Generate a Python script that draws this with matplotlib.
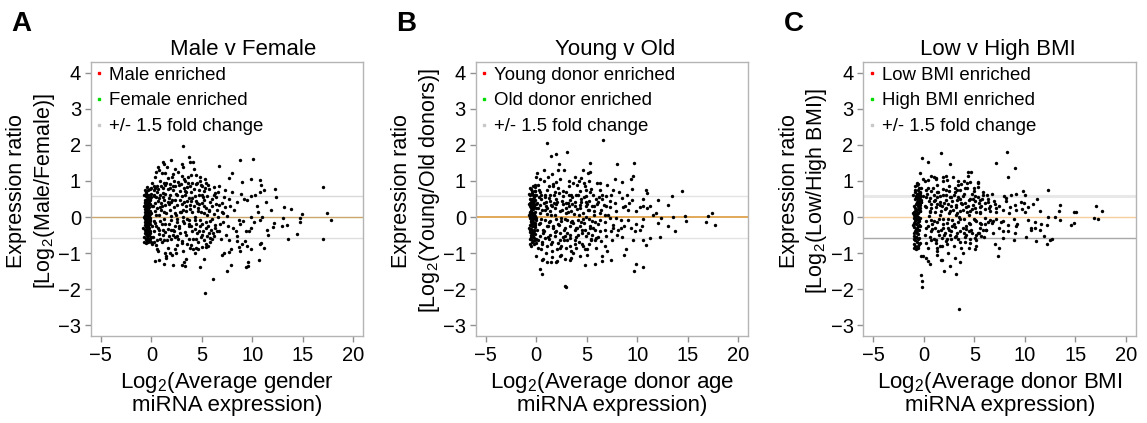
import numpy as np
import matplotlib
matplotlib.use("Agg")
import matplotlib.pyplot as plt
from matplotlib.lines import Line2D

plt.rcParams['font.family'] = ['Liberation Sans', 'DejaVu Sans']
plt.rcParams['mathtext.fontset'] = 'custom'
plt.rcParams['mathtext.rm'] = 'Liberation Sans'
plt.rcParams['mathtext.it'] = 'Liberation Sans'

# ---------------- data ----------------
sex_band = [(-0.45, 0.82), (-0.3, 0.75), (-0.5, 0.68), (-0.2, 0.62), (-0.55, 0.58), (-0.35, 0.55), (-0.15, 0.5),
            (-0.6, 0.47), (-0.42, 0.44), (-0.25, 0.4), (-0.52, 0.37), (-0.1, 0.35), (-0.38, 0.32), (-0.6, 0.3),
            (-0.2, 0.28), (-0.47, 0.25), (-0.3, 0.22), (-0.55, 0.2), (-0.12, 0.18), (-0.4, 0.16), (-0.62, 0.14),
            (-0.25, 0.12), (-0.5, 0.1), (-0.35, 0.08), (-0.15, 0.07), (-0.58, 0.05), (-0.44, 0.04), (-0.28, 0.02),
            (-0.65, 0.01), (-0.2, 0.0), (-0.5, -0.01), (-0.38, -0.02), (-0.1, -0.03), (-0.6, -0.04), (-0.3, -0.05),
            (-0.45, -0.07), (-0.18, -0.08), (-0.55, -0.1), (-0.35, -0.12), (-0.62, -0.14), (-0.25, -0.15),
            (-0.48, -0.17), (-0.12, -0.19), (-0.4, -0.21), (-0.58, -0.23), (-0.3, -0.25), (-0.52, -0.28),
            (-0.2, -0.3), (-0.42, -0.32), (-0.6, -0.35), (-0.33, -0.38), (-0.15, -0.4), (-0.5, -0.42),
            (-0.38, -0.45), (-0.55, -0.48), (-0.25, -0.5), (-0.45, -0.53), (-0.3, -0.57), (-0.5, -0.6),
            (-0.2, -0.63), (-0.4, -0.66), (-0.32, -0.7), (-0.48, -0.73), (-0.55, 0.0), (-0.45, 0.3), (-0.35, -0.3),
            (-0.58, 0.4), (-0.48, -0.4), (-0.4, 0.6), (-0.52, -0.2), (-0.28, 0.45), (-0.62, -0.05), (-0.42, 0.12),
            (-0.5, 0.2), (-0.7, 0.6), (-0.05, 0.65), (-0.75, 0.3), (0.05, 0.3), (-0.72, 0.0), (0.0, 0.1),
            (-0.78, -0.3), (0.02, -0.25), (-0.7, -0.55), (-0.05, -0.55), (-0.65, 0.75), (-0.1, 0.78),
            (-0.68, -0.68), (0.0, -0.7), (-0.6, 0.22), (-0.15, -0.12), (-0.33, 0.38), (-0.27, -0.42), (-0.44, 0.5),
            (-0.53, -0.62), (-0.22, 0.15), (-0.37, -0.17), (-0.57, 0.66), (-0.17, -0.6), (-0.65, 0.42),
            (-0.08, 0.55), (-0.47, -0.35), (-0.3, 0.05), (-0.62, -0.45), (-0.12, -0.45)]
sex_spread = [(3.12, 1.98), (3.71, 1.66), (4.08, 1.52), (8.73, 1.59), (10.05, 1.60), (6.68, 1.41), (1.93, 1.58),
              (1.14, 1.52), (1.30, 1.46), (1.54, 1.40), (0.64, 1.38), (0.48, 1.26), (0.78, 1.29), (1.01, 1.22),
              (1.37, 1.21), (2.30, 1.33), (3.05, 1.47), (3.09, 1.38), (3.81, 1.53), (4.24, 1.33), (3.91, 1.17),
              (2.99, 1.14), (2.10, 1.18), (1.60, 1.08), (2.23, 1.01), (2.62, 0.97), (3.38, 1.00), (3.58, 0.94),
              (4.44, 1.16), (4.84, 1.12), (4.84, 1.00), (5.43, 0.94), (5.03, 0.85), (4.44, 0.92), (3.78, 0.85),
              (3.25, 0.80), (2.36, 0.85), (1.80, 0.91), (1.37, 0.89), (0.97, 0.85), (0.58, 0.85), (0.22, 0.87),
              (-0.05, 0.80), (0.28, 0.76), (0.68, 0.77), (1.11, 0.66), (1.67, 0.77), (2.10, 0.74), (2.82, 0.71),
              (3.32, 0.73), (3.94, 0.68), (4.67, 0.76), (5.23, 0.71), (5.73, 0.77), (6.16, 0.83), (6.65, 0.87),
              (7.64, 1.08), (7.97, 1.22), (8.96, 0.96), (9.82, 1.06), (10.71, 1.03), (10.88, 0.89), (11.14, 0.76),
              (12.29, 0.77), (12.33, 0.55), (10.71, 0.69), (9.85, 0.59), (8.86, 0.64), (8.00, 0.69), (7.71, 0.50),
              (7.31, 0.76), (6.26, 0.66), (5.50, 0.57), (5.00, 0.62), (4.34, 0.57), (3.68, 0.52), (3.02, 0.59),
              (2.36, 0.48), (1.70, 0.52), (1.21, 0.48), (0.71, 0.52), (0.22, 0.57), (-0.11, 0.48), (0.38, 0.39),
              (0.88, 0.29), (1.37, 0.34), (1.96, 0.41), (2.53, 0.34), (3.19, 0.43), (3.85, 0.34), (4.51, 0.39),
              (5.17, 0.46), (5.83, 0.41), (6.65, 0.34), (7.31, 0.28), (8.47, 0.43), (9.46, 0.46), (10.45, 0.31),
              (11.37, 0.41), (11.83, 0.20), (13.12, 0.27), (13.78, 0.23), (14.90, 0.09), (14.74, -0.03),
              (14.67, -0.13), (16.95, 0.82), (17.38, 0.10), (17.74, -0.09), (16.98, -0.61), (13.48, -0.61),
              (14.44, -0.47), (12.99, -0.04), (13.42, -0.23), (12.92, -0.24), (12.10, -0.18), (12.00, -0.29),
              (11.44, -0.35), (10.78, -0.07), (10.12, -0.15), (10.94, 0.0), (9.89, 0.0), (9.36, -0.40),
              (9.69, -0.40), (8.70, -0.07), (8.73, -0.19), (8.47, -0.53), (8.07, -0.30), (7.64, -0.63),
              (8.50, -0.67), (8.96, -0.76), (9.29, -0.67), (9.46, -0.81), (9.85, -0.90), (10.84, -0.72),
              (11.17, -0.86), (10.74, -0.76), (10.61, -1.18), (9.52, -1.25), (9.36, -1.38), (9.56, -1.36),
              (8.63, -0.83), (8.76, -0.95), (7.87, -0.90), (7.71, -0.98), (7.24, -1.01), (7.87, -1.34),
              (7.51, -1.50), (6.98, -1.04), (6.09, -1.73), (5.27, -2.12), (4.77, -1.38), (5.23, -1.16),
              (5.40, -0.84), (5.00, -0.84), (4.44, -0.85), (4.11, -0.90), (3.42, -1.16), (3.28, -1.24),
              (3.02, -1.34), (3.35, -1.36), (2.16, -1.32), (2.43, -0.99), (1.87, -1.01), (1.50, -1.09),
              (1.37, -1.01), (1.27, -1.31), (0.78, -1.18), (0.38, -1.22), (0.55, -0.90), (0.28, -0.70),
              (0.05, -0.76), (0.48, -0.79), (0.88, -0.61), (1.30, -0.63), (1.70, -0.53), (2.10, -0.49),
              (2.53, -0.52), (3.02, -0.67), (3.52, -0.74), (3.94, -0.79), (4.44, -0.61), (5.00, -0.49),
              (5.50, -0.53), (5.83, -0.58), (6.16, -0.52), (6.49, -0.40), (5.93, -0.35), (5.40, -0.30),
              (4.84, -0.26), (4.34, -0.33), (3.75, -0.26), (3.28, -0.18), (2.69, -0.26), (2.13, -0.35),
              (1.63, -0.33), (1.11, -0.35), (0.64, -0.30), (0.22, -0.40), (0.38, -0.17), (0.88, -0.12),
              (1.37, -0.19), (1.96, -0.09), (2.53, -0.06), (3.09, 0.0), (3.68, -0.07), (4.28, 0.0), (4.84, -0.09),
              (5.40, -0.15), (5.99, -0.06), (6.59, 0.0), (7.05, -0.15), (7.48, 0.04), (6.98, 0.13), (6.49, 0.20),
              (5.73, 0.16), (5.17, 0.11), (4.57, 0.16), (4.01, 0.13), (3.45, 0.16), (2.86, 0.13), (2.30, 0.11),
              (1.80, 0.20), (1.21, 0.13), (0.78, 0.06), (0.38, 0.16), (2.36, -0.26), (4.67, -0.40), (5.66, -0.44),
              (6.26, -0.21),
              (0.1, 0.95), (0.4, 1.1), (0.6, 0.7), (0.9, 1.0), (1.2, 0.55), (1.5, 0.95), (1.8, 0.6), (2.0, 1.1),
              (2.4, 0.65), (2.7, 0.88), (3.0, 0.35), (3.3, 0.62), (3.6, 1.1), (3.9, 0.45), (4.2, 0.78), (4.6, 0.25),
              (5.1, 0.55), (5.6, 0.9), (6.0, 0.3), (6.4, 0.55), (0.2, 0.3), (0.5, 0.05), (0.7, 0.45), (1.0, 0.2),
              (1.3, -0.05), (1.6, 0.42), (1.9, 0.02), (2.2, 0.28), (2.5, -0.15), (2.8, 0.48), (3.1, -0.1), (3.4, 0.3),
              (3.7, -0.2), (4.0, 0.52), (4.3, -0.08), (4.7, 0.35), (5.0, -0.2), (5.4, 0.25), (5.8, -0.1), (6.2, 0.08),
              (0.15, -0.55), (0.45, -0.25), (0.75, -0.48), (1.05, -0.7), (1.35, -0.42), (1.65, -0.85), (1.95, -0.6),
              (2.25, -0.38), (2.55, -0.78), (2.85, -0.45), (3.15, -0.95), (3.45, -0.5), (3.75, -0.62), (4.05, -0.4),
              (4.35, -1.0), (4.65, -0.7), (4.95, -0.55), (5.25, -0.65), (5.6, -0.8), (6.0, -0.62), (0.3, 0.62),
              (0.65, -0.95), (1.15, 0.8), (1.45, -1.15), (2.05, -1.05), (2.6, 1.25), (3.5, 0.82), (4.5, 0.95),
              (5.3, 1.05), (6.7, -0.4), (7.2, 0.55), (8.2, 0.2), (9.1, -0.1), (10.3, 0.6), (11.5, -0.5)]
sex_fill = [(0.35, 0.8), (0.55, 0.25), (0.85, 0.62), (1.05, -0.2), (1.25, 0.95), (1.45, 0.1), (1.75, 0.35),
            (1.95, -0.35), (2.15, 0.85), (2.45, 0.05), (2.65, -0.6), (2.95, 0.92), (3.15, 0.2), (3.35, -0.42),
            (3.55, 0.45), (3.85, -0.85), (4.05, 0.95), (4.25, 0.3), (4.45, -0.2), (4.75, 0.6), (4.95, 0.15),
            (5.15, -0.4), (5.35, 0.8), (5.55, 0.05), (5.85, -0.7), (6.05, 0.5), (6.35, -0.3), (6.55, 0.7),
            (6.85, -0.6), (7.1, 0.1), (0.25, -0.1), (0.6, -0.65), (0.95, 0.4), (1.15, -0.5), (1.4, 0.65),
            (1.7, -0.2), (2.0, 0.48), (2.3, -0.9), (2.55, 0.6), (2.75, -0.3), (3.05, -0.72), (3.25, 1.05),
            (3.5, -0.05), (3.8, 0.22), (4.1, -0.6), (4.4, 0.45), (4.6, -0.9), (4.9, 0.9), (5.2, 0.3), (5.45, -0.75),
            (5.75, 0.2), (6.1, -0.45), (6.45, 0.35), (6.8, -0.2), (7.4, -0.5), (7.8, 0.3), (8.4, -0.4), (9.2, 0.5),
            (9.9, -0.3), (10.6, 0.15), (0.5, 0.55), (0.8, -0.35), (1.1, 0.3), (1.55, -0.65), (1.85, 0.8),
            (2.35, -0.55), (2.9, 0.15), (3.4, 0.7), (3.95, -0.25), (4.55, -0.45), (5.05, 0.4), (5.65, -0.25),
            (6.25, 0.62), (6.95, 0.4), (7.6, -0.25)]

age_band = [(-0.3, 0.85), (-0.5, 0.78), (-0.15, 0.72), (-0.4, 0.66), (-0.6, 0.6), (-0.25, 0.55), (-0.45, 0.5),
            (-0.1, 0.46), (-0.55, 0.42), (-0.35, 0.38), (-0.2, 0.34), (-0.6, 0.3), (-0.42, 0.27), (-0.05, 0.24),
            (-0.3, 0.21), (-0.5, 0.18), (-0.15, 0.15), (-0.62, 0.12), (-0.38, 0.1), (-0.25, 0.08), (-0.52, 0.06),
            (-0.1, 0.04), (-0.45, 0.02), (-0.32, 0.0), (-0.6, -0.02), (-0.2, -0.04), (-0.48, -0.06), (-0.05, -0.08),
            (-0.38, -0.1), (-0.55, -0.13), (-0.28, -0.15), (-0.15, -0.18), (-0.45, -0.2), (-0.62, -0.23),
            (-0.33, -0.26), (-0.1, -0.29), (-0.5, -0.32), (-0.22, -0.35), (-0.4, -0.38), (-0.58, -0.41),
            (-0.3, -0.44), (-0.12, -0.47), (-0.48, -0.5), (-0.36, -0.54), (-0.2, -0.58), (-0.52, -0.62),
            (-0.3, -0.66), (-0.42, -0.7), (-0.25, -0.75), (-0.5, -0.8), (-0.4, 0.45), (-0.55, 0.25), (-0.28, -0.05),
            (-0.45, -0.25), (-0.35, 0.6), (-0.58, 0.0), (-0.18, 0.28), (-0.48, 0.35), (-0.4, -0.45), (-0.62, 0.5),
            (-0.3, 0.12), (-0.52, -0.1), (-0.68, 0.65), (0.02, 0.6), (-0.7, 0.35), (0.05, 0.38), (-0.72, 0.05),
            (0.02, -0.02), (-0.7, -0.3), (0.03, -0.35), (-0.66, -0.6), (-0.02, -0.6), (-0.6, 0.8), (-0.08, 0.82),
            (-0.64, -0.75), (-0.05, -0.72), (-0.57, 0.18), (-0.13, -0.22), (-0.34, 0.5), (-0.26, -0.38),
            (-0.46, 0.72), (-0.55, -0.55), (-0.2, 0.45), (-0.36, -0.2), (-0.58, 0.4), (-0.15, -0.65), (-0.66, 0.15),
            (-0.07, 0.35), (-0.45, -0.42), (-0.28, 0.3), (-0.6, -0.35), (-0.12, 0.6)]
age_spread = [(1.04, 2.04), (6.58, 2.14), (1.47, 1.68), (1.93, 1.75), (3.02, 1.81), (2.25, 1.47), (5.36, 1.49),
              (7.97, 1.46), (9.72, 1.51), (9.59, 1.15), (9.39, 1.06), (7.77, 1.05), (5.33, 1.26), (5.13, 1.22),
              (4.64, 1.31), (2.16, 1.31), (1.53, 1.19), (0.74, 1.29), (0.12, 1.22), (0.02, 1.10), (0.41, 1.05),
              (1.65, 0.92), (1.97, 0.96), (3.22, 0.99), (3.61, 0.94), (4.47, 1.08), (4.77, 0.94), (5.25, 1.01),
              (6.29, 0.94), (7.05, 0.89), (7.61, 0.76), (8.44, 0.96), (8.17, 0.68), (9.01, 0.62), (9.50, 0.79),
              (10.84, 0.76), (10.98, 0.66), (12.06, 0.46), (13.0, 0.34), (13.48, 0.57), (14.44, 0.71),
              (-0.15, 0.89), (-0.15, 0.71), (0.35, 0.68), (0.84, 0.62), (1.27, 0.52), (1.73, 0.62), (2.26, 0.66),
              (2.66, 0.57), (3.32, 0.48), (3.91, 0.62), (4.37, 0.71), (4.97, 0.57), (5.46, 0.77), (5.89, 0.50),
              (6.35, 0.76), (6.95, 0.57), (7.44, 0.62), (8.46, 0.52), (9.52, 0.46), (10.25, 0.28), (10.58, 0.50),
              (11.24, 0.31), (11.57, 0.06), (11.83, 0.11), (12.39, -0.03), (13.54, 0.0), (14.70, 0.04),
              (14.86, -0.12), (16.95, 0.04), (17.38, 0.11), (16.85, -0.15), (17.71, -0.21), (13.71, -0.38),
              (13.05, -0.24), (12.03, -0.17), (12.23, -0.56), (11.30, -0.59), (10.91, -0.79), (10.61, -0.63),
              (10.31, -0.35), (10.51, -0.26), (9.55, -0.63), (9.39, -0.30), (8.69, -0.26), (8.69, -1.04),
              (8.93, -0.90), (9.92, -1.30), (9.69, -1.50), (10.61, -1.38), (8.53, -0.55), (8.07, -0.35),
              (7.61, -0.21), (7.54, -0.63), (7.44, -1.18), (7.01, -0.95), (6.55, -1.07), (6.55, -1.22),
              (5.79, -1.29), (4.80, -1.32), (5.03, -0.90), (4.57, -0.76), (4.31, -1.09), (3.48, -1.13),
              (2.82, -1.16), (2.33, -1.09), (1.93, -1.25), (1.50, -1.24), (1.07, -1.25), (0.68, -1.16),
              (0.41, -1.44), (0.54, -1.57), (2.82, -1.92), (2.99, -1.94), (0.02, -1.09), (0.18, -0.86),
              (0.58, -0.76), (1.07, -0.81), (1.50, -0.76), (2.06, -0.90), (2.49, -0.81), (2.99, -0.86),
              (3.48, -0.95), (3.98, -0.86), (3.81, -0.63), (3.32, -0.58), (2.82, -0.52), (2.33, -0.63),
              (1.83, -0.53), (1.34, -0.49), (0.84, -0.58), (0.35, -0.53), (4.97, -0.53), (5.46, -0.63),
              (5.96, -0.58), (6.45, -0.67), (6.95, -0.53), (5.79, -0.35), (5.30, -0.30), (4.80, -0.35),
              (4.31, -0.26), (3.81, -0.35), (3.32, -0.26), (2.82, -0.30), (2.26, -0.21), (1.67, -0.30),
              (1.17, -0.26), (0.68, -0.35), (0.35, -0.17), (0.84, -0.07), (1.34, -0.12), (1.93, -0.06),
              (2.49, -0.12), (3.05, -0.07), (3.65, -0.17), (4.14, -0.07), (4.70, -0.17), (5.23, -0.06),
              (5.79, -0.15), (6.35, -0.09), (6.78, 0.06), (6.29, 0.11), (5.69, 0.16), (5.13, 0.20), (4.64, 0.11),
              (4.04, 0.22), (3.48, 0.16), (2.99, 0.25), (2.39, 0.18), (1.83, 0.25), (1.34, 0.16), (0.84, 0.20),
              (0.41, 0.11), (0.35, 0.34), (0.94, 0.41), (1.50, 0.34), (2.06, 0.43), (2.66, 0.37), (3.25, 0.31),
              (3.81, 0.43), (4.37, 0.34), (4.97, 0.41), (5.56, 0.31), (6.12, 0.43), (6.68, 0.34), (7.28, 0.28),
              (7.94, 0.16), (8.60, 0.28), (9.09, 0.20), (8.43, -0.07), (9.09, -0.07), (7.94, -0.03),
              (7.28, -0.03), (9.92, 0.16), (10.58, -0.06),
              (0.2, 0.9), (0.5, 0.6), (0.8, 1.0), (1.1, 0.75), (1.4, 0.45), (1.7, 0.85), (2.0, 0.5), (2.3, 1.05),
              (2.6, 0.72), (2.9, 0.4), (3.2, 0.85), (3.5, 0.55), (3.8, 1.1), (4.1, 0.6), (4.4, 0.42), (4.8, 0.85),
              (5.2, 0.45), (5.6, 0.62), (6.0, 0.95), (6.5, 0.5), (0.2, 0.25), (0.5, -0.05), (0.75, 0.4), (1.05, 0.08),
              (1.3, -0.15), (1.6, 0.3), (1.9, 0.05), (2.2, -0.2), (2.5, 0.2), (2.8, -0.05), (3.1, 0.4), (3.4, -0.15),
              (3.7, 0.08), (4.0, -0.3), (4.3, 0.25), (4.6, -0.05), (4.9, 0.3), (5.3, -0.25), (5.7, 0.05), (6.1, -0.2),
              (0.15, -0.65), (0.45, -0.9), (0.7, -0.45), (1.0, -1.0), (1.25, -0.6), (1.55, -0.95), (1.85, -0.42),
              (2.15, -0.72), (2.45, -1.05), (2.75, -0.65), (3.05, -0.45), (3.35, -0.8), (3.65, -1.0), (3.95, -0.55),
              (4.25, -0.7), (4.55, -0.45), (4.85, -0.9), (5.2, -0.75), (5.55, -0.5), (5.9, -0.85), (0.3, 0.55),
              (0.6, -1.2), (1.2, 1.1), (1.6, -1.1), (2.1, -1.22), (2.7, 1.3), (3.3, -1.2), (4.2, 1.0), (5.0, -1.05),
              (6.8, -0.8), (7.3, 0.45), (8.0, -0.5), (8.8, 0.3), (9.8, -0.4), (11.0, 0.25)]
age_fill = [(0.3, 0.75), (0.55, 0.2), (0.85, 0.55), (1.05, -0.25), (1.25, 0.85), (1.45, 0.05), (1.75, 0.4),
            (1.95, -0.4), (2.15, 0.8), (2.45, -0.02), (2.65, -0.55), (2.95, 0.7), (3.15, 0.15), (3.35, -0.5),
            (3.55, 0.35), (3.85, -0.75), (4.05, 0.88), (4.25, 0.05), (4.45, -0.15), (4.75, 0.55), (4.95, 0.0),
            (5.15, -0.45), (5.35, 0.7), (5.55, -0.1), (5.85, -0.65), (6.05, 0.35), (6.35, -0.4), (6.55, 0.6),
            (6.85, -0.35), (7.1, 0.05), (0.25, -0.2), (0.6, -0.7), (0.95, 0.3), (1.15, -0.55), (1.4, 0.6),
            (1.7, -0.25), (2.0, 0.35), (2.3, -0.85), (2.55, 0.45), (2.75, -0.35), (3.05, -0.65), (3.25, 0.6),
            (3.5, -0.1), (3.8, 0.3), (4.1, -0.5), (4.4, 0.5), (4.6, -0.8), (4.9, 0.75), (5.2, 0.2), (5.45, -0.6),
            (5.75, 0.3), (6.1, -0.55), (6.45, 0.2), (6.8, -0.15), (7.4, -0.4), (7.8, 0.4), (8.4, -0.3), (9.2, 0.4),
            (9.9, -0.2), (10.6, 0.3), (0.5, 0.5), (0.8, -0.4), (1.1, 0.25), (1.55, -0.7), (1.85, 0.7),
            (2.35, -0.45), (2.9, 0.1), (3.4, 0.6), (3.95, -0.3), (4.55, -0.35), (5.05, 0.35), (5.65, -0.3),
            (6.25, 0.55), (6.95, 0.3), (7.6, -0.3)]

bmi_band = [(-0.7, 0.88), (-0.5, 0.8), (-0.85, 0.74), (-0.4, 0.7), (-0.65, 0.65), (-0.55, 0.6), (-0.35, 0.58),
            (-0.75, 0.55), (-0.45, 0.52), (-0.6, 0.5), (-0.3, 0.47), (-0.5, 0.45), (-0.7, 0.42), (-0.4, 0.4),
            (-0.58, 0.38), (-0.8, 0.35), (-0.35, 0.33), (-0.62, 0.3), (-0.48, 0.28), (-0.9, 0.25), (-0.7, 0.2),
            (-0.4, 0.18), (-0.95, 0.14), (-0.55, 0.12), (-0.8, 0.08), (-1.0, 0.05), (-0.65, 0.03), (-0.85, 0.0),
            (-1.02, -0.03), (-0.7, -0.06), (-0.9, -0.1), (-0.5, -0.12), (-0.95, -0.16), (-0.75, -0.2),
            (-0.6, -0.24), (-0.98, -0.28), (-0.8, -0.32), (-0.45, -0.35), (-0.9, -0.4), (-0.7, -0.44),
            (-0.55, -0.48), (-0.95, -0.52), (-0.8, -0.56), (-0.6, -0.6), (-0.88, -0.65), (-0.72, -0.7),
            (-0.5, -0.75), (-0.85, -0.8), (-0.65, -0.85), (-0.78, -0.9), (-0.42, 0.62), (-0.52, 0.36),
            (-0.32, 0.42), (-0.6, 0.56), (-0.45, 0.3), (-0.72, -0.35), (-0.88, 0.18), (-0.62, -0.15),
            (-1.0, -0.45), (-0.5, -0.05), (-1.05, 0.6), (-0.3, 0.8), (-1.0, 0.3), (-0.35, 0.25), (-1.08, 0.1),
            (-0.4, -0.02), (-1.05, -0.22), (-0.38, -0.25), (-1.0, -0.62), (-0.45, -0.58), (-0.92, 0.68),
            (-0.55, 0.92), (-0.95, -0.75), (-0.55, -0.85), (-0.85, 0.5), (-0.65, -0.3), (-0.5, 0.66), (-0.6, 0.42),
            (-0.45, 0.48), (-0.4, 0.55), (-0.55, 0.5), (-0.68, 0.6), (-0.82, -0.42), (-0.7, 0.12), (-0.92, -0.05),
            (-0.75, -0.55), (-0.58, 0.22), (-0.48, -0.22), (-0.85, 0.85), (-0.98, -0.85)]
bmi_spread = [(-0.22, 1.64), (0.38, 1.52), (1.70, 1.77), (2.62, 1.46), (7.18, 1.51), (8.20, 1.80), (8.99, 1.37),
              (8.27, 1.12), (-0.35, 1.23), (-0.09, 1.05), (0.41, 1.03), (1.01, 1.12), (1.24, 1.08), (1.90, 1.12),
              (2.22, 1.15), (2.32, 1.03), (3.38, 0.99), (3.71, 0.92), (3.94, 1.01), (4.37, 1.24), (4.70, 1.24),
              (4.54, 0.96), (5.36, 0.96), (5.36, 0.83), (4.96, 0.71), (4.27, 0.80), (3.55, 0.76), (3.05, 0.80),
              (2.49, 0.71), (1.90, 0.77), (1.30, 0.68), (0.74, 0.71), (0.24, 0.76), (-0.68, 0.94), (-0.58, 0.76),
              (-0.42, 0.66), (-0.75, 0.57), (-0.48, 0.48), (-0.68, 0.39), (-0.25, 0.43), (-0.09, 0.57),
              (0.57, 0.52), (1.07, 0.48), (1.57, 0.57), (2.16, 0.46), (2.72, 0.55), (3.28, 0.48), (3.88, 0.57),
              (4.47, 0.48), (5.03, 0.59), (5.53, 0.46), (5.86, 0.62), (6.36, 0.41), (7.02, 0.37), (7.91, 0.59),
              (8.17, 0.52), (8.66, 0.62), (9.16, 0.64), (9.82, 0.71), (10.05, 0.62), (9.56, 0.43), (8.99, 0.34),
              (9.16, 0.20), (9.75, 0.22), (10.25, 0.29), (10.81, 0.37), (11.47, 0.18), (12.29, 0.76),
              (13.51, 0.34), (13.38, 0.16), (12.95, 0.0), (13.51, -0.07), (14.86, 0.13), (15.09, 0.13),
              (14.83, -0.17), (14.57, -0.21), (17.01, 0.31), (17.60, 0.16), (16.84, -0.03), (17.24, -0.06),
              (12.29, 0.0), (12.22, -0.21), (12.45, -0.63), (12.72, -0.61), (12.19, -0.76), (11.86, -0.52),
              (11.47, -0.35), (11.14, -0.67), (11.04, -0.30), (10.64, -0.30), (10.31, -0.09), (10.97, -0.15),
              (11.63, -0.19), (10.08, -0.55), (9.13, -0.26), (8.89, -0.06), (8.89, -0.64), (8.33, -0.40),
              (7.84, -0.58), (7.45, -0.86), (7.28, -1.07), (7.02, -0.76), (6.78, -0.17), (6.17, -0.35),
              (5.69, -0.52), (5.20, -0.81), (5.03, -0.90), (4.54, -0.72), (4.04, -0.55), (3.71, -0.86),
              (3.05, -1.13), (3.15, -1.57), (2.56, -1.36), (1.96, -1.50), (1.80, -1.18), (1.30, -1.04),
              (1.30, -0.86), (0.41, -1.22), (0.18, -1.13), (-0.25, -1.09), (-0.09, -1.07), (-0.32, -1.61),
              (-0.15, -1.78), (-0.15, -1.93), (3.48, -2.54), (-0.58, -0.81), (-0.35, -0.72), (0.24, -0.72),
              (0.74, -0.63), (1.24, -0.72), (1.74, -0.58), (2.22, -0.67), (2.62, -0.49), (3.22, -0.53),
              (5.03, -0.58), (5.36, -0.44), (4.70, -0.35), (4.14, -0.33), (3.55, -0.40), (3.05, -0.28),
              (2.49, -0.35), (1.90, -0.30), (1.40, -0.40), (0.84, -0.33), (0.41, -0.26), (0.24, -0.12),
              (0.74, -0.07), (1.30, -0.15), (1.84, -0.06), (2.29, -0.17), (2.82, -0.07), (3.38, -0.15),
              (3.94, -0.06), (4.47, -0.17), (5.03, -0.07), (5.53, -0.17), (6.03, -0.03), (6.52, -0.09),
              (7.18, -0.06), (7.84, -0.12), (8.33, -0.21), (7.78, 0.20), (7.18, 0.25), (6.52, 0.16), (6.07, 0.22),
              (5.53, 0.13), (5.06, 0.25), (4.54, 0.16), (4.14, 0.28), (3.61, 0.18), (3.15, 0.29), (2.62, 0.16),
              (2.16, 0.25), (1.64, 0.16), (1.17, 0.28), (0.64, 0.16), (0.24, 0.28), (0.74, 0.37), (1.57, 0.34),
              (2.39, 0.37), (3.22, 0.34), (4.04, 0.39), (4.87, 0.34), (5.53, 0.28), (8.50, 0.29), (-0.42, 0.16),
              (-0.58, 0.0),
              (0.1, 1.0), (0.4, 0.8), (0.7, 1.15), (1.0, 0.6), (1.3, 0.9), (1.6, 0.42), (1.9, 1.0), (2.2, 0.6),
              (2.5, 0.85), (2.8, 0.45), (3.1, 0.68), (3.4, 0.9), (3.7, 0.4), (4.0, 0.65), (4.3, 0.95), (4.6, 0.5),
              (5.0, 0.8), (5.4, 0.4), (5.8, 0.7), (6.3, 0.5), (0.1, 0.3), (0.45, 0.02), (0.7, 0.25), (1.0, -0.1),
              (1.3, 0.35), (1.55, 0.05), (1.85, -0.2), (2.1, 0.22), (2.4, -0.05), (2.7, 0.3), (3.0, -0.2), (3.3, 0.12),
              (3.6, -0.05), (3.9, 0.2), (4.2, -0.25), (4.5, 0.05), (4.8, 0.22), (5.2, -0.1), (5.6, 0.3), (6.0, -0.2),
              (0.1, -0.5), (0.4, -0.85), (0.65, -0.4), (0.95, -0.6), (1.25, -0.95), (1.5, -0.5), (1.8, -0.8),
              (2.05, -0.45), (2.35, -1.0), (2.65, -0.6), (2.95, -0.8), (3.25, -0.45), (3.55, -0.7), (3.85, -1.0),
              (4.15, -0.5), (4.45, -0.85), (4.8, -0.45), (5.15, -0.65), (5.5, -0.3), (5.9, -0.55), (0.25, 0.55),
              (0.55, -1.3), (1.15, 1.05), (1.65, -1.2), (2.3, -0.75), (2.9, 1.1), (3.6, -1.25), (4.4, 1.15),
              (5.3, 0.95), (6.7, 0.65), (7.4, -0.3), (8.1, 0.45), (9.0, -0.45), (10.0, 0.15), (11.2, 0.5)]
bmi_fill = [(0.3, 0.65), (0.55, 0.15), (0.85, 0.8), (1.05, -0.3), (1.25, 0.55), (1.45, -0.05), (1.75, 0.3),
            (1.95, -0.5), (2.15, 0.75), (2.45, 0.1), (2.65, -0.4), (2.95, 0.6), (3.15, 0.05), (3.35, -0.6),
            (3.55, 0.5), (3.85, -0.3), (4.05, 0.8), (4.25, 0.15), (4.45, -0.4), (4.75, 0.65), (4.95, -0.05),
            (5.15, -0.5), (5.35, 0.55), (5.55, 0.1), (5.85, -0.35), (6.05, 0.4), (6.35, -0.15), (6.55, 0.3),
            (6.85, -0.45), (7.1, 0.15), (0.25, -0.3), (0.6, -0.55), (0.95, 0.45), (1.15, -0.65), (1.4, 0.7),
            (1.7, -0.35), (2.0, 0.4), (2.3, -0.6), (2.55, 0.55), (2.75, -0.25), (3.05, -0.55), (3.25, 0.75),
            (3.5, 0.0), (3.8, 0.35), (4.1, -0.7), (4.4, 0.3), (4.6, -0.6), (4.9, 0.5), (5.2, 0.15), (5.45, -0.45),
            (5.75, 0.5), (6.1, -0.35), (6.45, 0.25), (6.8, -0.1), (7.4, 0.3), (7.8, -0.4), (8.4, 0.1), (9.2, -0.2),
            (9.9, 0.4), (10.6, -0.35), (0.5, 0.45), (0.8, -0.2), (1.1, 0.15), (1.55, -0.8), (1.85, 0.6),
            (2.35, -0.3), (2.9, 0.2), (3.4, 0.55), (3.95, -0.45), (4.55, -0.2), (5.05, 0.45), (5.65, -0.2),
            (6.25, 0.6), (6.95, 0.45), (7.6, -0.15)]

titles = ["Male v Female", "Young v Old", "Low v High BMI"]
letters = ["A", "B", "C"]
ylabels = ["Expression ratio\n[Log$_2$(Male/Female)]",
           "Expression ratio\n[Log$_2$(Young/Old donors)]",
           "Expression ratio\n[Log$_2$(Low/High BMI)]"]
xlabels = ["Log$_2$(Average gender\nmiRNA expression)",
           "Log$_2$(Average donor age\nmiRNA expression)",
           "Log$_2$(Average donor BMI\nmiRNA expression)"]
legend_labels = [["Male enriched", "Female enriched", "+/- 1.5 fold change"],
                 ["Young donor enriched", "Old donor enriched", "+/- 1.5 fold change"],
                 ["Low BMI enriched", "High BMI enriched", "+/- 1.5 fold change"]]
fold_line = np.log2(1.5)
xticks = [-5, 0, 5, 10, 15, 20]
yticks = [-3, -2, -1, 0, 1, 2, 3, 4]

points = [sex_band + sex_spread + sex_fill,
          age_band + age_spread + age_fill,
          bmi_band + bmi_spread + bmi_fill]

# line styles per panel: (upper fold, lower fold, zero)
line_styles = [
    [dict(color='#d9d9d9', lw=1.0), dict(color='#dedede', lw=1.0), dict(color='#c9a66b', lw=1.0)],
    [dict(color='#e3e3e3', lw=1.0), dict(color='#e3e3e3', lw=1.0), dict(color='#dc9a3c', lw=1.2)],
    [dict(color='#e8e8e8', lw=2.2), dict(color='#a8a8a8', lw=1.0), dict(color='#f6cf9f', lw=1.0)],
]

fig = plt.figure(figsize=(11.47, 4.23), dpi=100)
lefts = [0.0791, 0.4147, 0.7527]
title_x = [0.559, 0.513, 0.492]
letter_x = [0.010, 0.345, 0.683]

for i in range(3):
    ax = fig.add_axes([lefts[i], 0.2057, 0.2378, 0.6478])
    pts = np.array(points[i])
    ax.scatter(pts[:, 0], pts[:, 1], s=6, marker='o', c='black', lw=0, zorder=3)

    up, lo, zero = line_styles[i]
    ax.axhline(fold_line, zorder=1, **up)
    ax.axhline(-fold_line, zorder=1, **lo)
    ax.axhline(0, zorder=2, **zero)

    ax.set_xlim(-6, 21)
    ax.set_ylim(-3.3, 4.3)
    ax.set_xticks(xticks)
    ax.set_yticks(yticks)
    ax.tick_params(labelsize=14.5, length=4, color='#909090', width=1, pad=3)
    for sp in ax.spines.values():
        sp.set_color('#b4b4b4')
        sp.set_linewidth(1)

    ax.set_ylabel(ylabels[i], fontsize=15.5, linespacing=1.25)
    ax.yaxis.set_label_coords(-0.125, 0.53)
    ax.set_xlabel(xlabels[i], fontsize=16, linespacing=1.0, labelpad=4)
    ax.set_title(titles[i], fontsize=16, x=title_x[i], pad=5)

    handles = [Line2D([], [], marker='s', ms=2, ls='none', color=c)
               for c in ['#ff0000', '#00dd00', '#c8c8c8']]
    ax.legend(handles, legend_labels[i], loc='upper left', frameon=False, fontsize=13.4,
              handlelength=0.4, handletextpad=0.35, labelspacing=0.47, borderaxespad=0.05,
              borderpad=0.2)

    fig.text(letter_x[i], 0.975, letters[i], fontsize=20, fontweight='bold', va='top', ha='left')

fig.savefig("out.png", dpi=100)
